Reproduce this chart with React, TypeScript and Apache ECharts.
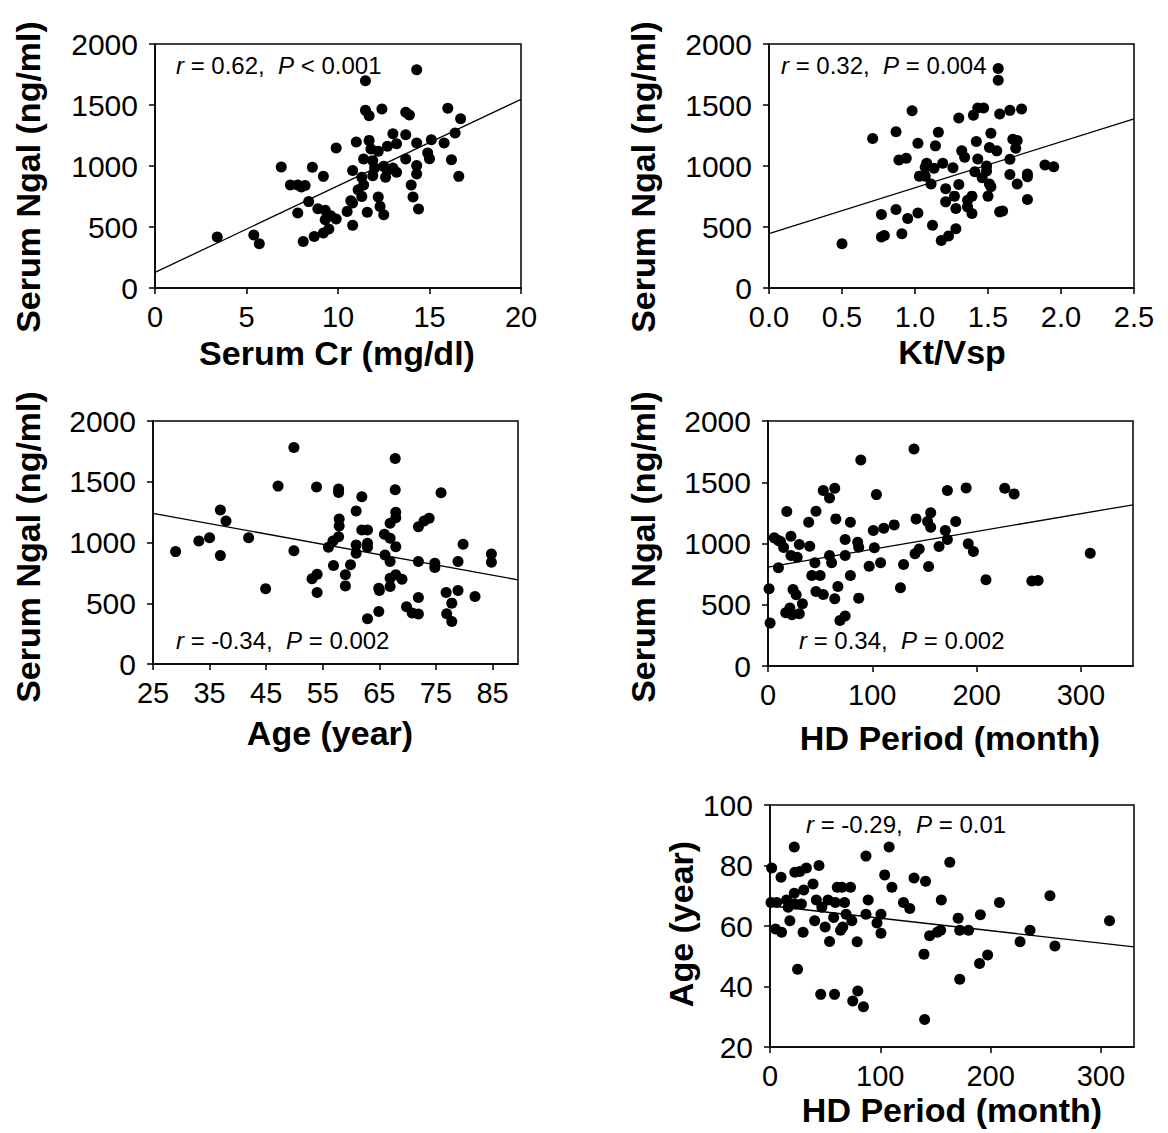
import React, { useEffect, useRef } from "react";
import * as echarts from "echarts";

const FONT = "'Liberation Sans', Arial, Helvetica, sans-serif";

// Panel 1: Serum Cr (mg/dl) vs Serum Ngal (ng/ml)
const crNgal: [number, number][] = [
  [3.4, 418], [5.4, 434], [5.7, 363], [6.9, 992], [7.4, 844], [7.8, 844], [8.0, 828], [8.2, 841],
  [7.8, 615], [8.1, 382], [8.4, 708], [8.6, 989], [8.7, 423], [8.9, 650], [9.2, 915], [9.3, 637],
  [9.3, 560], [9.2, 451], [9.5, 484], [9.6, 593], [9.9, 566], [9.9, 1147], [10.5, 628], [10.7, 716],
  [10.8, 697], [10.8, 964], [10.8, 514], [11.0, 1197], [11.1, 806], [11.3, 751], [11.3, 907], [11.4, 844],
  [11.4, 1057], [11.5, 1699], [11.5, 1456], [11.7, 1412], [11.6, 620], [11.7, 1210], [11.8, 1139], [11.9, 1044],
  [12.0, 984], [11.9, 921], [12.2, 1120], [12.2, 746], [12.3, 669], [12.5, 601], [12.4, 1467], [12.5, 997],
  [12.7, 964], [12.6, 907], [12.7, 1161], [13.0, 984], [13.0, 1265], [13.2, 1183], [13.2, 948], [13.7, 1440],
  [13.9, 1418], [13.7, 1257], [13.7, 1057], [14.0, 844], [14.1, 746], [14.3, 1789], [14.3, 1188], [14.3, 1005],
  [14.3, 934], [14.4, 647], [14.9, 1106], [15.0, 1060], [15.1, 1216], [15.8, 1188], [16.0, 1473], [16.2, 1052],
  [16.4, 1270], [16.6, 915], [16.7, 1388],
];
const crLine: [number, number][] = [[0, 128], [20, 1546]];

// Panel 2: Kt/Vsp vs Serum Ngal
const ktvNgal: [number, number][] = [
  [0.50, 363], [0.71, 1225], [0.77, 602], [0.77, 418], [0.79, 431], [0.87, 1280], [0.87, 643], [0.89, 1049],
  [0.91, 445], [0.94, 1063], [0.95, 569], [0.98, 1453], [1.02, 1187], [1.02, 615], [1.03, 917], [1.07, 917],
  [1.08, 1022], [1.07, 989], [1.11, 852], [1.12, 514], [1.13, 981], [1.14, 1165], [1.16, 1277], [1.18, 390],
  [1.19, 1022], [1.21, 813], [1.21, 706], [1.23, 426], [1.26, 986], [1.27, 753], [1.28, 486], [1.28, 651],
  [1.30, 1393], [1.30, 849], [1.32, 1124], [1.34, 1071], [1.36, 720], [1.36, 665], [1.39, 753], [1.39, 610],
  [1.40, 1417], [1.41, 953], [1.42, 1200], [1.43, 1058], [1.43, 1475], [1.47, 1475], [1.46, 904], [1.49, 1000],
  [1.49, 959], [1.50, 753], [1.51, 852], [1.51, 1151], [1.52, 830], [1.52, 1269], [1.56, 1124], [1.57, 1799],
  [1.57, 1703], [1.58, 1426], [1.58, 624], [1.60, 632], [1.65, 1456], [1.65, 1055], [1.65, 931], [1.67, 1220],
  [1.69, 1146], [1.70, 1209], [1.70, 852], [1.73, 1467], [1.77, 934], [1.77, 912], [1.77, 725], [1.89, 1008],
  [1.95, 994],
];
const ktvLine: [number, number][] = [[0, 445], [2.5, 1387]];

// Panel 3: Age (year) vs Serum Ngal
const ageNgal: [number, number][] = [
  [29.0, 925], [33.1, 1013], [35.0, 1040], [36.9, 1267], [37.9, 1177], [36.9, 892], [41.9, 1040], [44.9, 619],
  [47.1, 1464], [49.9, 1782], [49.9, 933], [53.1, 701], [54.0, 739], [54.0, 588], [53.9, 1456], [56.0, 961],
  [56.8, 1013], [56.9, 810], [57.8, 1440], [57.8, 1412], [57.9, 1193], [57.9, 1136], [57.8, 1048], [59.0, 734],
  [59.0, 643], [59.9, 816], [60.9, 1259], [60.9, 980], [60.9, 911], [61.9, 1377], [61.9, 1103], [62.9, 1103],
  [62.9, 994], [62.9, 961], [62.9, 372], [64.9, 432], [64.9, 624], [65.0, 605], [65.9, 1067], [66.0, 898],
  [66.9, 1158], [66.9, 1035], [66.9, 843], [66.9, 706], [66.9, 638], [67.8, 1691], [67.8, 1434], [67.9, 1248],
  [67.9, 1204], [67.9, 966], [67.9, 734], [69.0, 698], [69.8, 471], [70.8, 419], [71.9, 411], [71.9, 547],
  [71.9, 1130], [71.9, 843], [72.9, 1177], [73.8, 1199], [74.8, 829], [74.8, 794], [75.9, 1410], [76.8, 588],
  [76.9, 413], [77.8, 501], [77.8, 350], [78.9, 843], [78.9, 605], [79.8, 985], [81.9, 556], [84.8, 906],
  [84.8, 838],
];
const ageLine: [number, number][] = [[25, 1240], [89.5, 693]];

// Panel 4: HD Period (month) vs Serum Ngal
const hdNgal: [number, number][] = [
  [1, 630], [2, 350], [6, 1046], [10, 1024], [12, 1016], [15, 967], [10, 802], [18, 1261],
  [22, 1060], [22, 902], [24, 625], [27, 581], [17, 435], [21, 473], [23, 418], [30, 427],
  [28, 888], [30, 992], [33, 508], [39, 1174], [40, 978], [42, 739], [46, 1263], [45, 842],
  [46, 609], [50, 739], [53, 584], [53, 1432], [59, 1372], [59, 902], [61, 842], [64, 1451],
  [65, 1201], [64, 549], [67, 649], [69, 372], [74, 408], [74, 902], [74, 1032], [79, 739],
  [79, 1174], [86, 1011], [87, 970], [87, 554], [89, 1682], [97, 815], [101, 1106], [102, 965],
  [104, 1399], [108, 842], [111, 1125], [121, 1152], [127, 638], [130, 829], [140, 1771], [141, 916],
  [142, 1201], [145, 956], [154, 812], [153, 1179], [156, 1250], [156, 1133], [164, 975], [170, 1106],
  [172, 1032], [172, 1432], [180, 1179], [190, 1454], [192, 997], [197, 935], [209, 704], [227, 1451],
  [236, 1405], [253, 693], [259, 698], [309, 921],
];
const hdLine: [number, number][] = [[0, 807], [350, 1316]];

// Panel 5: HD Period (month) vs Age (year)
const hdAge: [number, number][] = [
  [1.5, 79.2], [0.9, 67.8], [6, 67.8], [10, 76.1], [5, 59.0], [10.5, 57.9], [15, 68.6], [16.5, 66.2],
  [18, 61.7], [22, 86.1], [22.5, 77.8], [22, 70.8], [22.5, 67.3], [25, 45.7], [27, 78.0], [28.5, 67.3],
  [30, 57.9], [30.6, 71.9], [33, 79.2], [39, 73.9], [40.5, 61.7], [42, 68.6], [44.4, 80.0], [47, 66.2],
  [46, 37.4], [50, 59.7], [52.6, 68.6], [54, 54.9], [57.7, 62.8], [58.5, 37.4], [59.2, 67.8], [61, 72.8],
  [64, 58.6], [65.2, 72.8], [66, 59.7], [67.6, 67.8], [69, 63.9], [73, 72.8], [74.2, 61.7], [75, 35.2],
  [79, 54.8], [79.6, 38.5], [84.7, 33.3], [87, 83.1], [87, 63.9], [89, 68.6], [97, 61.0], [100.6, 63.9],
  [100.6, 57.6], [104, 76.9], [108, 86.1], [110.5, 72.8], [121, 67.8], [126.7, 65.8], [130.6, 75.9], [139.6, 50.7],
  [140.2, 29.1], [141, 74.8], [144.7, 56.8], [151.7, 57.9], [154.7, 58.6], [155.3, 68.6], [163, 81.1], [170.6, 62.6],
  [172, 58.6], [172, 42.4], [180, 58.6], [190, 47.6], [190.7, 63.7], [197.3, 50.4], [208, 67.8], [226.7, 54.8],
  [235.7, 58.6], [253.8, 70.0], [258.3, 53.4], [307.8, 61.7],
];
const hdAgeLine: [number, number][] = [[0, 66.7], [330, 53.1]];

const xTitles = ["Serum Cr (mg/dl)", "Kt/Vsp", "Age (year)", "HD Period (month)", "HD Period (month)"];
const yTitles = ["Serum Ngal (ng/ml)", "Serum Ngal (ng/ml)", "Serum Ngal (ng/ml)", "Serum Ngal (ng/ml)", "Age (year)"];
const statR = ["0.62", "0.32", "-0.34", "0.34", "-0.29"];
const statP = ["< 0.001", "= 0.004", "= 0.002", "= 0.002", "= 0.01"];

const pointSets = [crNgal, ktvNgal, ageNgal, hdNgal, hdAge];
const lineSets = [crLine, ktvLine, ageLine, hdLine, hdAgeLine];

// layout (pixels)
const grids = [
  { left: 155, top: 44, width: 366, height: 244 },
  { left: 769, top: 44, width: 365, height: 244 },
  { left: 153, top: 421, width: 365, height: 243 },
  { left: 768, top: 421, width: 365, height: 245 },
  { left: 770, top: 805, width: 364, height: 242 },
];
const xScales = [
  { min: 0, max: 20, interval: 5, showMax: true, dec: 0 },
  { min: 0, max: 2.5, interval: 0.5, showMax: true, dec: 1 },
  { min: 25, max: 89.5, interval: 10, showMax: false, dec: 0 },
  { min: 0, max: 350, interval: 100, showMax: false, dec: 0 },
  { min: 0, max: 330, interval: 100, showMax: false, dec: 0 },
];
const yScales = [
  { min: 0, max: 2000, interval: 500 },
  { min: 0, max: 2000, interval: 500 },
  { min: 0, max: 2000, interval: 500 },
  { min: 0, max: 2000, interval: 500 },
  { min: 20, max: 100, interval: 20 },
];
const statPos = [[176, 65], [781, 65], [176, 640], [799, 640], [806, 824]];
const yTitlePos = [[28, 177], [643, 177], [28, 547], [643, 547], [681, 924]];
const xTitlePos = [[337, 353], [952, 352], [330, 733], [950, 738], [952, 1110]];

export default function App() {
  const ref = useRef<HTMLDivElement>(null);
  useEffect(() => {
    if (!ref.current) return;
    const chart = echarts.init(ref.current, undefined, { renderer: "svg" });
    const black = "#000";
    const option: any = {
      animation: false,
      backgroundColor: "#fff",
      grid: grids.map((g) => ({
        ...g,
        show: true,
        borderColor: black,
        borderWidth: 1.5,
        backgroundColor: "transparent",
        containLabel: false,
      })),
      xAxis: xScales.map((s, i) => ({
        type: "value",
        gridIndex: i,
        min: s.min,
        max: s.max,
        interval: s.interval,
        axisLine: { show: true, onZero: false, lineStyle: { color: black, width: 1.5 } },
        axisTick: { show: true, inside: false, length: 6, lineStyle: { color: black, width: 1.5 } },
        axisLabel: {
          color: black,
          fontSize: 29,
          fontFamily: FONT,
          margin: 14,
          showMaxLabel: s.showMax,
          formatter: (v: number) => v.toFixed(s.dec),
        },
        splitLine: { show: false },
      })),
      yAxis: yScales.map((s, i) => ({
        type: "value",
        gridIndex: i,
        min: s.min,
        max: s.max,
        interval: s.interval,
        axisLine: { show: true, onZero: false, lineStyle: { color: black, width: 1.5 } },
        axisTick: { show: true, inside: false, length: 6, lineStyle: { color: black, width: 1.5 } },
        axisLabel: {
          color: black,
          fontSize: 30,
          fontFamily: FONT,
          margin: 17,
          formatter: (v: number) => String(v),
        },
        splitLine: { show: false },
      })),
      series: [
        ...pointSets.map((pts, i) => ({
          type: "scatter",
          xAxisIndex: i,
          yAxisIndex: i,
          data: pts,
          symbol: "circle",
          symbolSize: 11,
          itemStyle: { color: black, opacity: 1 },
        })),
        ...lineSets.map((ln, i) => ({
          type: "line",
          xAxisIndex: i,
          yAxisIndex: i,
          data: ln,
          showSymbol: false,
          symbol: "none",
          lineStyle: { color: black, width: 1.3 },
        })),
      ],
      graphic: [
        ...statR.map((r, i) => ({
          type: "text",
          x: statPos[i][0],
          y: statPos[i][1],
          style: {
            text: `{i|r} = ${r},  {i|P} ${statP[i]}`,
            fontSize: 24,
            fontFamily: FONT,
            fill: black,
            textVerticalAlign: "middle",
            rich: { i: { fontStyle: "italic", fontSize: 24, fontFamily: FONT } },
          },
        })),
        ...yTitles.map((t, i) => ({
          type: "text",
          x: yTitlePos[i][0],
          y: yTitlePos[i][1],
          rotation: Math.PI / 2,
          style: {
            text: t,
            fontSize: 34,
            fontWeight: "bold",
            fontFamily: FONT,
            fill: black,
            textAlign: "center",
            textVerticalAlign: "middle",
          },
        })),
        ...xTitles.map((t, i) => ({
          type: "text",
          x: xTitlePos[i][0],
          y: xTitlePos[i][1],
          style: {
            text: t,
            fontSize: 34,
            fontWeight: "bold",
            fontFamily: FONT,
            fill: black,
            textAlign: "center",
            textVerticalAlign: "middle",
          },
        })),
      ],
    };
    chart.setOption(option);
    return () => chart.dispose();
  }, []);
  return (
    <div
      ref={ref}
      style={{ position: "absolute", left: 0, top: 0, width: 1168, height: 1133, background: "#fff" }}
    />
  );
}
